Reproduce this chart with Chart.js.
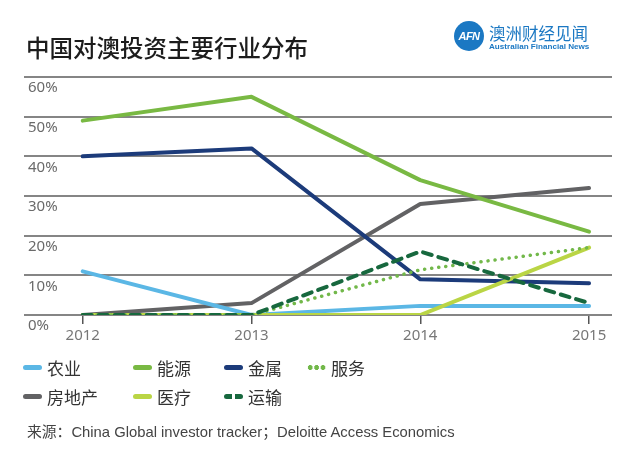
<!DOCTYPE html>
<html>
<head>
<meta charset="utf-8">
<script src="https://cdn.jsdelivr.net/npm/chart.js@4/dist/chart.umd.min.js"></script>
<style>
    body { margin: 0; background: #fff; }
    #wrap { position: relative; width: 640px; height: 475px; overflow: hidden;
            font-family: "Noto Sans CJK SC", "Noto Sans", sans-serif; }
    #chart { position: absolute; left: 0; top: 0; }
    .title { position: absolute; left: 26px; top: 34px; font-size: 23.5px; line-height: 26px;
             font-weight: 500; color: #1c1c1c; white-space: nowrap; }
    .logo-dot { position: absolute; left: 454px; top: 21px; width: 30px; height: 30px; border-radius: 50%;
                background: #1b78c3; color: #fff; font: italic bold 11px "Liberation Sans", sans-serif;
                line-height: 30px; text-align: center; letter-spacing: -0.5px; }
    .logo-cn { position: absolute; left: 489px; top: 23px; font-size: 16.5px; line-height: 20px;
               color: #1b78c3; white-space: nowrap; }
    .logo-en { position: absolute; left: 489px; top: 42px; font: bold 8.1px "Liberation Sans", sans-serif;
               color: #1b78c3; white-space: nowrap; }
    .legend { position: absolute; left: 0; top: 0; }
    .item { position: absolute; display: flex; align-items: center; height: 24px;
            font-size: 17px; color: #333; white-space: nowrap; }
    .swatch { width: 19px; height: 5px; border-radius: 3px; margin-right: 5px; }
    .source { position: absolute; left: 27px; top: 421px; font-size: 14.8px; line-height: 20px;
              color: #444; white-space: nowrap; }
    .source span { font-family: "Liberation Sans", sans-serif; }
</style>
</head>
<body>
<div id="wrap">
    <canvas id="chart" width="640" height="475"></canvas>
    <div class="title">中国对澳投资主要行业分布</div>
    <div class="logo-dot">AFN</div>
    <div class="logo-cn">澳洲财经见闻</div>
    <div class="logo-en">Australian Financial News</div>
    <div class="legend" id="legend"></div>
    <div class="source">来源：<span>China Global investor tracker</span>；<span>Deloitte Access Economics</span></div>
</div>
<script>
// Data (percent of investment)
const years = [2012, 2013, 2014, 2015];
const yTicks = [0, 10, 20, 30, 40, 50, 60];
const seriesNames = ['农业', '能源', '金属', '服务', '房地产', '医疗', '运输'];

const agriculture = [11, 0, 2.3, 2.3];
const energy = [49, 55, 34, 21];
const metals = [40, 42, 9, 8];
const services = [0, 0, 11.4, 17];
const realEstate = [0, 3, 28, 32];
const health = [0, 0, 0, 17];
const transport = [0, 0, 16, 3];

const seriesValues = [agriculture, energy, metals, services, realEstate, health, transport];
const seriesColors = ['#5bb7e5', '#79b943', '#1c3b7a', '#72b84a', '#626264', '#bad545', '#17683e'];
const seriesDash = [[], [], [], [0.1, 7], [], [], [9, 7]];
// lower number = drawn on top
const drawOrder = [3, 5, 4, 1, 6, 2, 0];

// Legend layout (column x, row y centre)
const legendCols = [23, 133, 224, 307];
const legendRows = [367, 396];

function buildLegend() {
    const box = document.getElementById('legend');
    seriesNames.forEach((name, i) => {
        const row = i < 4 ? 0 : 1;
        const col = i < 4 ? i : i - 4;
        const el = document.createElement('div');
        el.className = 'item';
        el.style.left = legendCols[col] + 'px';
        el.style.top = (legendRows[row] - 12) + 'px';

        const sw = document.createElement('div');
        sw.className = 'swatch';
        const c = seriesColors[i];
        if (seriesDash[i].length && seriesDash[i][0] < 1) {
            // dotted
            sw.style.borderRadius = '0';
            sw.style.background = `radial-gradient(circle, ${c} 2.2px, transparent 2.7px) 0 0 / 6.4px 5px repeat-x`;
        } else if (seriesDash[i].length) {
            sw.style.background = `repeating-linear-gradient(90deg, ${c} 0 8px, transparent 8px 11px)`;
        } else {
            sw.style.background = c;
        }
        el.appendChild(sw);
        el.appendChild(document.createTextNode(name));
        box.appendChild(el);
    });
}

function buildChart() {
    const ctx = document.getElementById('chart').getContext('2d');
    const datasets = seriesNames.map((name, i) => ({
        label: name,
        data: years.map((y, k) => ({ x: y, y: seriesValues[i][k] })),
        borderColor: seriesColors[i],
        backgroundColor: seriesColors[i],
        borderWidth: seriesDash[i].length && seriesDash[i][0] < 1 ? 3.5 : 4,
        borderDash: seriesDash[i],
        borderCapStyle: 'round',
        borderJoinStyle: 'round',
        pointRadius: 0,
        tension: 0,
        fill: false,
        order: drawOrder[i]
    }));

    new Chart(ctx, {
        type: 'line',
        data: { datasets: datasets },
        options: {
            responsive: false,
            animation: false,
            layout: { padding: { left: 24, right: 28, top: 77, bottom: 130 } },
            plugins: { legend: { display: false }, tooltip: { enabled: false } },
            scales: {
                x: {
                    type: 'linear',
                    min: 2011.652,
                    max: 2015.136,
                    afterBuildTicks: s => { s.ticks = years.map(v => ({ value: v })); },
                    afterFit: s => { s.height = 30; },
                    grid: { drawOnChartArea: false, drawTicks: true, tickLength: 9, tickColor: '#555', lineWidth: 1.5 },
                    border: { display: false },
                    ticks: {
                        padding: 3,
                        color: '#777',
                        font: { family: "'Noto Sans', sans-serif", size: 15 },
                        callback: v => String(v)
                    }
                },
                y: {
                    min: 0,
                    max: 60,
                    afterBuildTicks: s => { s.ticks = yTicks.map(v => ({ value: v })); },
                    afterFit: s => { s.width = 0; },
                    grid: { color: '#858585', lineWidth: 2, drawTicks: false },
                    border: { display: false },
                    ticks: {
                        mirror: true,
                        padding: 4,
                        labelOffset: 11,
                        color: '#6a6a6a',
                        font: { family: "'Noto Sans', sans-serif", size: 15 },
                        callback: v => v + '%'
                    }
                }
            }
        }
    });
}

buildLegend();
buildChart();
</script>
</body>
</html>
